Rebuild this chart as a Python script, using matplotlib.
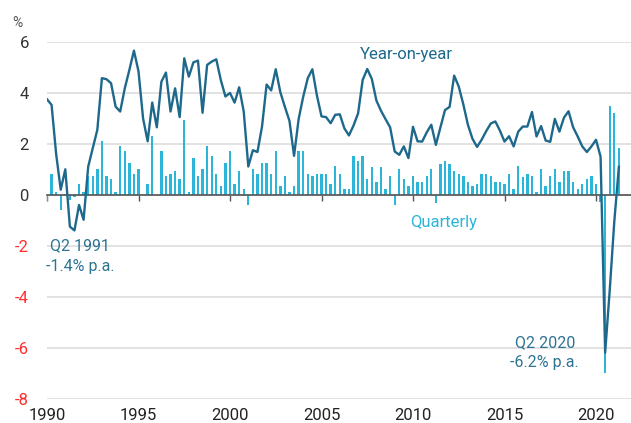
import matplotlib
matplotlib.use("Agg")
import matplotlib.pyplot as plt
import pandas as pd

plt.rcParams['font.family'] = ['Roboto', 'DejaVu Sans']

# Quarters (plotted at quarter end)
quarters = pd.period_range('1989Q4', '2021Q1', freq='Q')

# Year-on-year growth, %
yoy = [3.75, 3.53, 1.6, 0.2, 1.0, -1.25, -1.4, -0.4, -0.98, 1.1,
       1.83, 2.55, 4.58, 4.54, 4.38, 3.46, 3.27, 4.18, 4.9, 5.66,
       4.85, 3.0, 2.1, 3.62, 2.65, 4.44, 4.8, 3.27, 4.18, 3.05,
       5.36, 4.64, 5.2, 5.27, 3.22, 5.1, 5.23, 5.32, 4.5, 3.86,
       4.0, 3.62, 4.22, 3.27, 1.11, 1.75, 1.68, 2.68, 4.33, 4.1,
       4.93, 4.03, 3.45, 2.9, 1.53, 2.97, 3.85, 4.58, 4.93, 3.9,
       3.08, 3.05, 2.81, 3.14, 3.16, 2.61, 2.33, 2.72, 3.2, 4.51,
       4.94, 4.55, 3.7, 3.3, 2.97, 2.65, 1.7, 1.57, 1.9, 1.44,
       2.67, 2.1, 2.09, 2.45, 2.75, 1.96, 2.65, 3.33, 3.45, 4.68,
       4.25, 3.55, 2.75, 2.2, 1.88, 2.16, 2.5, 2.8, 2.88, 2.52,
       2.09, 2.3, 1.9, 2.48, 2.68, 2.68, 3.25, 2.29, 2.7, 2.13,
       2.08, 2.98, 2.48, 3.03, 3.28, 2.65, 2.29, 1.9, 1.68, 1.9,
       2.16, 1.5, -6.2, -3.75, -1.05, 1.1]

# Quarterly growth, %
quarterly = [-0.25, 0.82, 0.1, -0.6, 0.05, -0.2, -0.1, 0.43, 0.1, 0.72,
             0.72, 1.02, 2.12, 0.72, 0.61, 0.1, 1.92, 1.73, 1.24, 0.82,
             1.02, 0.0, 0.43, 2.31, 0.0, 1.73, 0.72, 0.81, 0.92, 0.61,
             2.92, 0.1, 1.44, 0.72, 1.02, 1.92, 1.53, 0.82, 0.33, 1.24,
             1.73, 0.43, 0.92, 0.22, -0.39, 1.0, 0.81, 1.24, 1.24, 0.81,
             1.73, 0.33, 0.72, 0.1, 0.33, 1.73, 1.73, 0.82, 0.72, 0.81,
             0.81, 0.81, 0.43, 1.14, 0.82, 0.22, 0.22, 1.53, 1.33, 1.53,
             0.61, 1.11, 0.52, 1.11, 0.22, 0.72, -0.42, 1.0, 0.61, 0.33,
             0.72, 0.52, 0.52, 0.72, 1.0, -0.33, 1.2, 1.31, 1.22, 0.92,
             0.81, 0.72, 0.52, 0.33, 0.43, 0.82, 0.82, 0.72, 0.52, 0.52,
             0.43, 0.82, 0.22, 1.14, 0.68, 0.81, 0.72, 0.1, 1.0, 0.33,
             0.72, 1.0, 0.52, 0.92, 0.92, 0.52, 0.22, 0.43, 0.61, 0.72,
             0.43, -0.3, -7.0, 3.49, 3.23, 1.83]

year_ticks = [1990, 1995, 2000, 2005, 2010, 2015, 2020]
y_ticks = [-8, -6, -4, -2, 0, 2, 4, 6]

x = [p.year + p.quarter / 4 for p in quarters]

LINE = '#1e688b'
BAR = '#2bb6d9'
NEG = '#ff2e2e'

W, H = 631, 423
fig = plt.figure(figsize=(W / 100, H / 100), dpi=100)
ax = fig.add_axes([47 / W, 1 - 398.5 / H, (W - 47) / W, (398.5 - 42) / H])

ax.bar(x, quarterly, width=0.13, color=BAR, zorder=2, linewidth=0)
ax.plot(x, yoy, color=LINE, lw=1.7, zorder=4, solid_joinstyle='round')

ax.set_xlim(1990, 1990 + (W - 47) / 18.3)
ax.set_ylim(-8, 6)

# grid
ax.set_yticks(y_ticks)
ax.yaxis.grid(True, color='#e2e2e2', lw=1.4, zorder=0)
ax.set_axisbelow(True)
for s in ['top', 'right', 'left']:
    ax.spines[s].set_visible(False)
ax.spines['bottom'].set_position(('data', 0))
ax.spines['bottom'].set_color('#555555')
ax.spines['bottom'].set_linewidth(1.2)
ax.spines['bottom'].set_zorder(3)

ax.set_xticks(year_ticks)
ax.tick_params(axis='x', direction='out', length=4, width=1, color='#555555',
               labelbottom=False)
ax.tick_params(axis='y', length=0, pad=13, labelsize=12)
ax.set_yticklabels([str(v) for v in y_ticks])
for lab, v in zip(ax.get_yticklabels(), y_ticks):
    lab.set_color(NEG if v < 0 else '#333333')

sec = ax.secondary_xaxis('bottom')
sec.set_xticks(year_ticks)
sec.set_xticklabels([str(v) for v in year_ticks])
sec.tick_params(length=0, pad=6.5, labelsize=12, labelcolor='#222222')
sec.spines['bottom'].set_visible(False)

# labels
fig.text(17 / W, 1 - 23 / H, '%', ha='center', va='center', fontsize=10, color='#555555')
ax.text(2007.1, 5.49, 'Year-on-year', color=LINE, fontsize=12, ha='left', va='center')
ax.text(2009.85, -1.1, 'Quarterly', color=BAR, fontsize=12, ha='left', va='center')
ax.text(1991.8, -2.0, 'Q2 1991', color='#2f7393', fontsize=11.5, ha='center', va='center')
ax.text(1991.8, -2.8, '-1.4% p.a.', color='#2f7393', fontsize=11.5, ha='center', va='center')
ax.text(2017.2, -5.8, 'Q2 2020', color='#2f7393', fontsize=11.5, ha='center', va='center')
ax.text(2017.2, -6.58, '-6.2% p.a.', color='#2f7393', fontsize=11.5, ha='center', va='center')

fig.savefig('out.png', dpi=100)
